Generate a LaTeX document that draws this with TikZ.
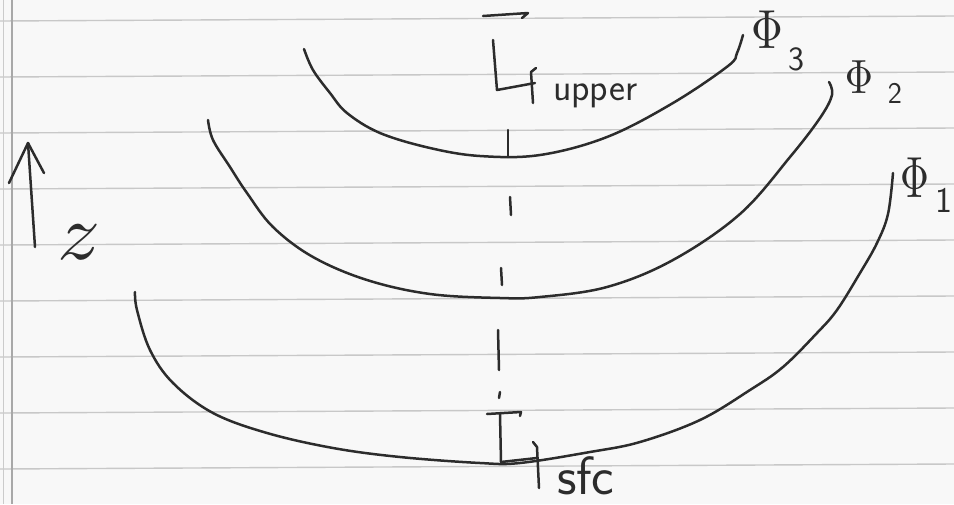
\documentclass[tikz,border=0pt]{standalone}
\usepackage{graphicx}
\usetikzlibrary{calc}
\definecolor{paper}{HTML}{F8F8F8}
\definecolor{rulecol}{HTML}{C8C8C8}
\definecolor{margincol}{HTML}{A8A8A8}
\definecolor{pencil}{HTML}{2C2C2C}
\tikzset{
  pen/.style={draw=pencil, line width=2.5pt, line cap=round, line join=round},
  ruled/.style={draw=rulecol, line width=1.4pt},
  marginline/.style={draw=margincol, line width=1.4pt},
  lbl/.style={inner sep=0pt, outer sep=0pt, text=pencil},
}
\begin{document}
\begin{tikzpicture}[x=1pt,y=-1pt]
\useasboundingbox (0,0) rectangle (954,504);
\fill[paper] (0,0) rectangle (954,504);
% ruled paper lines
\foreach \yy in {16,72,128,184,240,296,352,408,464}{
  \draw[ruled] (0,\yy+5) -- (954,\yy);
}
\draw[marginline] (12,0) -- (12,504);
\draw[draw=margincol!60, line width=1pt] (3,0) -- (3,504);

% z arrow
\coordinate (zbot) at (35,247);
\coordinate (ztop) at (28,143);
\draw[pen] (zbot) -- (ztop);
\draw[pen] (9,183) -- (ztop) -- (44,173);
\node[lbl, anchor=base west] (zlab) at (57,259) {\scalebox{8.5}[8]{$z$}};

% curves
\draw[pen] plot[smooth, tension=0.6] coordinates {(135,292) (137,310) (150,350) (173,383) (213,413) (267,433) (333,448) (400,457) (480,463) (520,463) (590,452) (640,442) (700,420) (750,390) (783,367) (817,333) (837,310) (860,273) (877,243) (888,214) (893,173)};
\draw[pen] plot[smooth, tension=0.6] coordinates {(208,120) (213,140) (230,167) (247,193) (273,227) (313,257) (367,280) (430,294) (500,298) (540,297) (607,287) (673,260) (740,214) (790,157) (820,118) (832,95) (829,82)};
\draw[pen] plot[smooth, tension=0.6] coordinates {(304,49) (313,70) (330,93) (347,113) (380,133) (430,148) (480,156) (540,155) (607,137) (673,103) (728,66) (737,53) (743,35)};

% dashed vertical line (hand drawn dashes)
\draw[pen] (508,130) -- (508,157);
\draw[pen] (510,197) -- (511,215);
\draw[pen] (501,268) -- (502,285);
\draw[pen] (498,330) -- (499,370);
\draw[pen] (500,392) -- (499,398);

% upper marker
\draw[pen] (483,16) -- (528,13) -- (522,18);
\draw[pen] (493,40) -- (497,90) -- (535,83);
\draw[pen] (533,103) -- (531,72) -- (536,68);
\node[lbl, anchor=base west, font=\sffamily\fontsize{38}{40}\selectfont] (upper) at (553,100) {upper};

% surface marker
\draw[pen] (487,414) -- (521,412) -- (520,416);
\draw[pen] (500,414) -- (501,462) -- (537,458);
\draw[pen] (539,488) -- (537,447) -- (533,442);
\node[lbl, anchor=base west, font=\sffamily\fontsize{54}{56}\selectfont] (sfc) at (557,494) {sfc};

% Phi labels
\node[lbl, anchor=base] (phi3) at (767,48) {\scalebox{4.4}[5.5]{$\Phi$}};
\node[lbl, anchor=base, font=\sffamily\fontsize{34}{36}\selectfont] (n3) at (796,70) {3};
\node[lbl, anchor=base] (phi2) at (859,93) {\scalebox{3.9}[4.8]{$\Phi$}};
\node[lbl, anchor=base, font=\sffamily\fontsize{30}{32}\selectfont] (n2) at (895,103) {2};
\node[lbl, anchor=base] (phi1) at (915,197) {\scalebox{4.0}[5.8]{$\Phi$}};
\node[lbl, anchor=base, font=\sffamily\fontsize{36}{38}\selectfont] (n1) at (944,212) {1};
\end{tikzpicture}
\end{document}
